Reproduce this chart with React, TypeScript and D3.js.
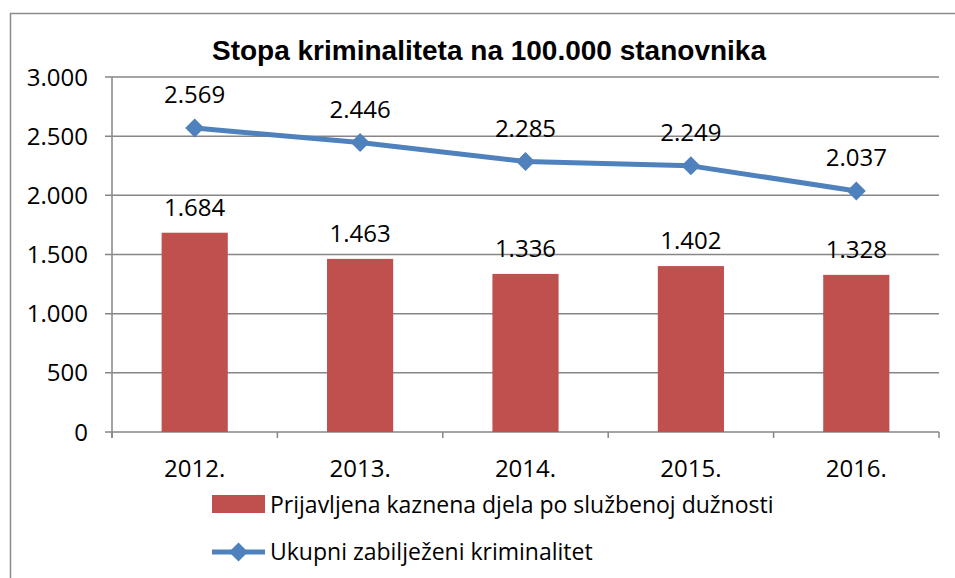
import React from "react";
import * as d3 from "d3";

const categories = ["2012.", "2013.", "2014.", "2015.", "2016."];
const barValues = [1684, 1463, 1336, 1402, 1328];
const lineValues = [2569, 2446, 2285, 2249, 2037];
const yTicks = [0, 500, 1000, 1500, 2000, 2500, 3000];
const titleText = "Stopa kriminaliteta na 100.000 stanovnika";
const barSeriesName = "Prijavljena kaznena djela po službenoj dužnosti";
const lineSeriesName = "Ukupni zabilježeni kriminalitet";

const W = 955;
const H = 578;
const left = 112;
const right = 939;
const top = 77;
const bottom = 432;
const BAR = "#C0504D";
const LINE = "#4F81BD";
const GRID = "#868686";
const FONT = "'Open Sans', sans-serif";
const NUM = 24;

const fmt = (v: number) => d3.format(",")(v).replace(/,/g, ".");

export default function App() {
  const x = d3.scaleBand<string>().domain(categories).range([left, right]).paddingInner(0).paddingOuter(0);
  const y = d3.scaleLinear().domain([0, 3000]).range([bottom, top]);
  const bw = x.bandwidth() * 0.4;
  const cx = (c: string) => (x(c) as number) + x.bandwidth() / 2;
  const line = d3
    .line<number>()
    .x((_, i) => cx(categories[i]))
    .y((d) => y(d));
  const diamond = (s: number) => `M0,${-s} L${s},0 L0,${s} L${-s},0 Z`;
  const boundaries = [...categories.map((c) => x(c) as number), right];

  return (
    <svg width={W} height={H} style={{ position: "absolute", left: 0, top: 0 }}>
      <rect x={0} y={0} width={W} height={H} fill="#fff" />
      <path d={`M10.5,${H} L10.5,13.5 L${W},13.5`} fill="none" stroke="#8c8c8c" strokeWidth={1.5} />
      <text x={489} y={60} textAnchor="middle" fontFamily="'Liberation Sans', Arial, sans-serif" fontWeight="bold" fontSize={28}>
        {titleText}
      </text>
      {yTicks.map((t) => (
        <g key={t}>
          <line x1={105} x2={right} y1={y(t)} y2={y(t)} stroke={GRID} strokeWidth={1.5} />
          <text x={88} y={y(t) + 8.5} textAnchor="end" fontFamily={FONT} fontSize={NUM} fill="#000">
            {fmt(t)}
          </text>
        </g>
      ))}
      <line x1={left} x2={left} y1={top} y2={bottom + 6} stroke={GRID} strokeWidth={1.5} />
      {boundaries.map((b, i) => (
        <line key={i} x1={b} x2={b} y1={bottom} y2={bottom + 6} stroke={GRID} strokeWidth={1.5} />
      ))}
      {categories.map((c, i) => (
        <g key={c}>
          <rect x={cx(c) - bw / 2} y={y(barValues[i])} width={bw} height={bottom - y(barValues[i])} fill={BAR} />
          <text x={cx(c)} y={y(barValues[i]) - 17} textAnchor="middle" fontFamily={FONT} fontSize={NUM}>
            {fmt(barValues[i])}
          </text>
          <text x={cx(c)} y={477} textAnchor="middle" fontFamily={FONT} fontSize={NUM}>
            {c}
          </text>
        </g>
      ))}
      <path d={line(lineValues) || ""} fill="none" stroke={LINE} strokeWidth={5} strokeLinejoin="round" />
      {categories.map((c, i) => (
        <g key={c}>
          <path d={diamond(9.5)} transform={`translate(${cx(c)},${y(lineValues[i])})`} fill={LINE} />
          <text x={cx(c)} y={y(lineValues[i]) - 25} textAnchor="middle" fontFamily={FONT} fontSize={NUM}>
            {fmt(lineValues[i])}
          </text>
        </g>
      ))}
      <rect x={212} y={495} width={53} height={18} fill={BAR} />
      <text x={270} y={513} fontFamily={FONT} fontSize={23}>
        {barSeriesName}
      </text>
      <line x1={212} x2={265} y1={552} y2={552} stroke={LINE} strokeWidth={5} />
      <path d={diamond(9.5)} transform={`translate(238.5,552)`} fill={LINE} />
      <text x={270} y={560} fontFamily={FONT} fontSize={23}>
        {lineSeriesName}
      </text>
    </svg>
  );
}
